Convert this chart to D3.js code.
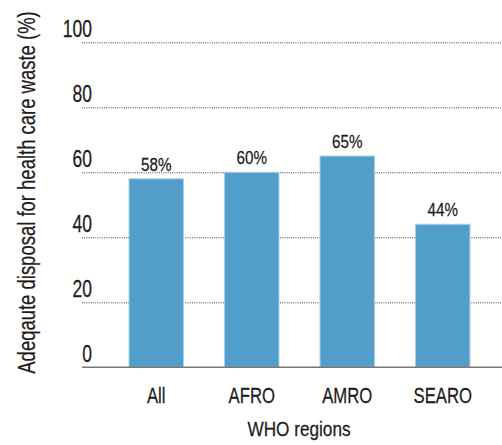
<!DOCTYPE html>
<html><head><meta charset="utf-8">
<script src="https://cdn.jsdelivr.net/npm/d3@7"></script>
<style>
body{margin:0;background:#fff;}
text{font-family:"Liberation Sans",Arial,sans-serif;fill:#1e1b1c;}
</style></head>
<body><svg id="c" width="502" height="445"></svg>
<script>
const categories = ["All","AFRO","AMRO","SEARO"];
const values = [58,60,65,44];
const valueLabels = ["58%","60%","65%","44%"];
const yTicks = [0,20,40,60,80,100];
const xTitle = "WHO regions";
const yTitle = "Adeqaute disposal for health care waste (%)";

(function(){
const svg = d3.select("#c");
const mLeft = 82, mRight = 502, mTop = 42.3, mBottom = 367.3;
const y = d3.scaleLinear().domain([0,100]).range([mBottom, mTop]);
const x = d3.scaleBand().domain(categories).range([108.5, 490.5]).paddingInner(0.43).paddingOuter(0.215);

function label(parent, tx, ty, sx, size, anchor, str, rot) {
  const g = parent.append("g")
    .attr("transform", `translate(${tx},${ty})` + (rot ? ` rotate(${rot})` : "") + ` scale(${sx},1)`);
  g.append("text").attr("text-anchor", anchor).attr("font-size", size)
    .attr("stroke", "#1e1b1c").attr("stroke-width", 0.25).text(str);
}

svg.append("g").selectAll("line").data(yTicks.filter(d=>d>0)).join("line")
  .attr("x1", mLeft).attr("x2", mRight)
  .attr("y1", d=>y(d)+0.5).attr("y2", d=>y(d)+0.5)
  .attr("stroke", "#444").attr("stroke-width", 1).attr("stroke-dasharray", "1,1.2");

const tg = svg.append("g");
yTicks.forEach(d => label(tg, 92, y(d)-5, 0.76, 23, "end", d));

svg.append("g").selectAll("rect").data(values).join("rect")
  .attr("x", (d,i)=>x(categories[i])).attr("width", x.bandwidth())
  .attr("y", d=>y(d)).attr("height", d=>mBottom - y(d))
  .attr("fill", "#529ecb").attr("stroke","#a8cfe6").attr("stroke-width",1);

const vg = svg.append("g");
values.forEach((d,i) => label(vg, x(categories[i]) + x.bandwidth()/2, y(d) - 8, 0.8, 19, "middle", valueLabels[i]));

svg.append("line").attr("x1", mLeft).attr("x2", mRight)
  .attr("y1", mBottom).attr("y2", mBottom)
  .attr("stroke", "#777").attr("stroke-width", 1.5);

const cg = svg.append("g");
categories.forEach(d => label(cg, x(d)+x.bandwidth()/2, 403, 0.76, 22, "middle", d));

label(svg, 299, 436, 0.86, 20, "middle", xTitle);
label(svg, 35, 192.5, 0.77, 24, "middle", yTitle, -90);
})();
</script></body></html>
